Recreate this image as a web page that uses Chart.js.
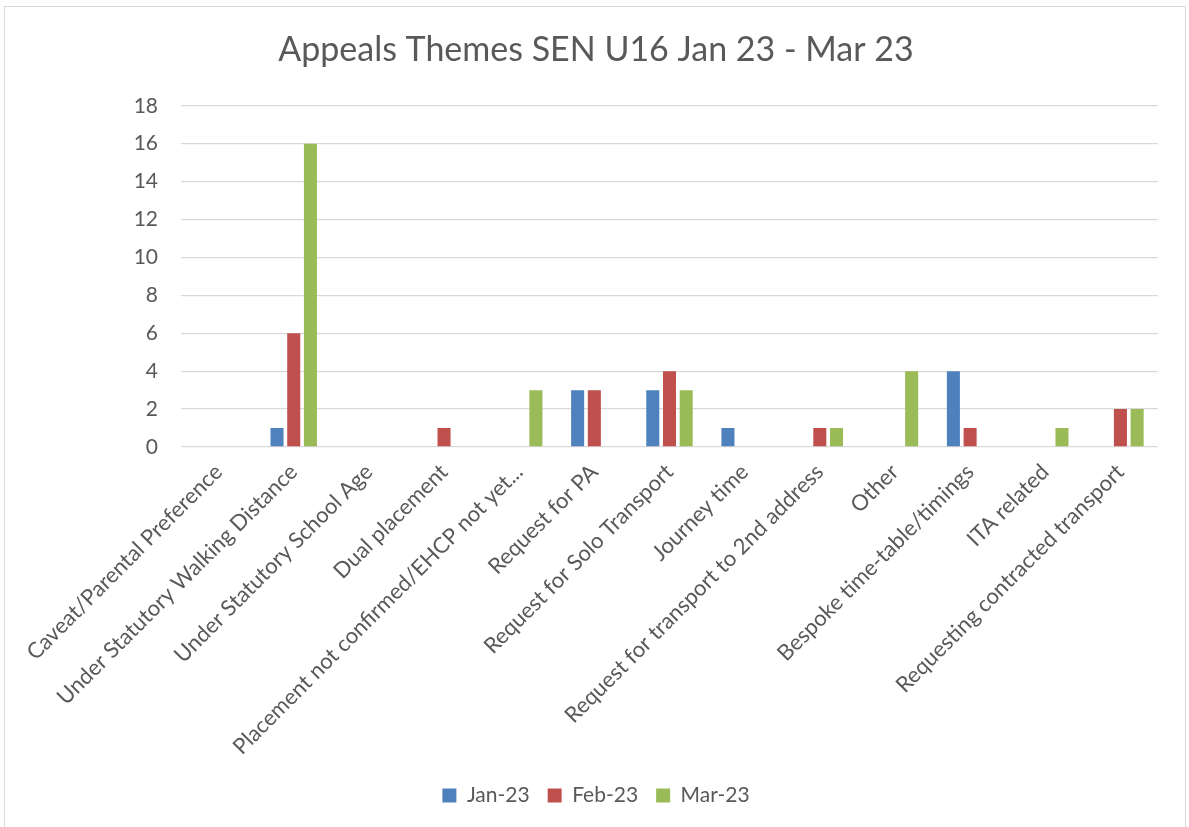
<!DOCTYPE html>
<html>
<head>
<meta charset="utf-8">
<title>Appeals Themes SEN U16</title>
<script src="https://cdn.jsdelivr.net/npm/chart.js@4/dist/chart.umd.min.js"></script>
<style>
  html, body { margin: 0; padding: 0; background: #fff; }
  #wrap { position: relative; width: 1189px; height: 827px; }
  #frame {
    position: absolute; left: 4px; top: 6px; width: 1180px; height: 830px;
    border: 1px solid #d9d9d9; pointer-events: none;
  }
</style>
</head>
<body>
<div id="wrap">
  <canvas id="appealsChart" width="1189" height="827"></canvas>
  <div id="frame"></div>
</div>
<script>
// themes along the x axis
var themes = [
  'Caveat/Parental Preference',
  'Under Statutory Walking Distance',
  'Under Statutory School Age',
  'Dual placement',
  'Placement not confirmed/EHCP not yet...',
  'Request for PA',
  'Request for Solo Transport',
  'Journey time',
  'Request for transport to 2nd address',
  'Other',
  'Bespoke time-table/timings',
  'ITA related',
  'Requesting contracted transport'
];

// appeal counts per month
var jan23 = [0, 1, 0, 0, 0, 3, 3, 1, 0, 0, 4, 0, 0];
var feb23 = [0, 6, 0, 1, 0, 3, 4, 0, 1, 0, 1, 0, 2];
var mar23 = [0, 16, 0, 0, 3, 0, 3, 0, 1, 4, 0, 1, 2];

var yTicks = [0, 2, 4, 6, 8, 10, 12, 14, 16, 18];

var textColor = '#595959';
var fontFamily = 'Lato, "Open Sans", sans-serif';

document.addEventListener('DOMContentLoaded', function() {
  var ctx = document.getElementById('appealsChart').getContext('2d');

  var barOpts = { categoryPercentage: 0.667, barPercentage: 0.78, borderWidth: 0 };

  var data = {
    labels: themes,
    datasets: [
      Object.assign({ label: 'Jan-23', data: jan23, backgroundColor: '#4f81bd' }, barOpts),
      Object.assign({ label: 'Feb-23', data: feb23, backgroundColor: '#c0504d' }, barOpts),
      Object.assign({ label: 'Mar-23', data: mar23, backgroundColor: '#9bbb59' }, barOpts)
    ]
  };

  var options = {
    responsive: false,
    animation: false,
    layout: { padding: { left: 3, right: 0, top: 0, bottom: 11 } },
    plugins: {
      title: {
        display: true,
        text: 'Appeals Themes SEN U16 Jan 23 - Mar 23',
        color: textColor,
        font: { family: fontFamily, size: 34, weight: 'normal' },
        padding: { top: 30, bottom: 35 }
      },
      legend: {
        position: 'bottom',
        labels: {
          color: textColor,
          font: { family: fontFamily, size: 21 },
          boxWidth: 14,
          boxHeight: 14,
          padding: 18
        }
      },
      tooltip: { enabled: false }
    },
    scales: {
      x: {
        grid: { display: false },
        border: { display: false },
        ticks: {
          color: textColor,
          font: { family: fontFamily, size: 22 },
          minRotation: 45,
          maxRotation: 45,
          autoSkip: false,
          padding: 4
        },
        afterFit: function(scale) { scale.height = 320; }
      },
      y: {
        min: 0,
        max: 18,
        afterBuildTicks: function(scale) {
          scale.ticks = yTicks.map(function(v) { return { value: v }; });
        },
        grid: { color: '#d9d9d9', lineWidth: 1.3, drawTicks: false },
        border: { display: false },
        ticks: {
          color: textColor,
          font: { family: fontFamily, size: 21 },
          padding: 23
        },
        afterFit: function(scale) { scale.width = 178; }
      },
      // empty margin on the right of the plot
      yRight: {
        position: 'right',
        grid: { display: false, drawTicks: false },
        border: { display: false },
        ticks: { display: false },
        afterFit: function(scale) { scale.width = 31; }
      }
    }
  };

  new Chart(ctx, { type: 'bar', data: data, options: options });
});
</script>
</body>
</html>
